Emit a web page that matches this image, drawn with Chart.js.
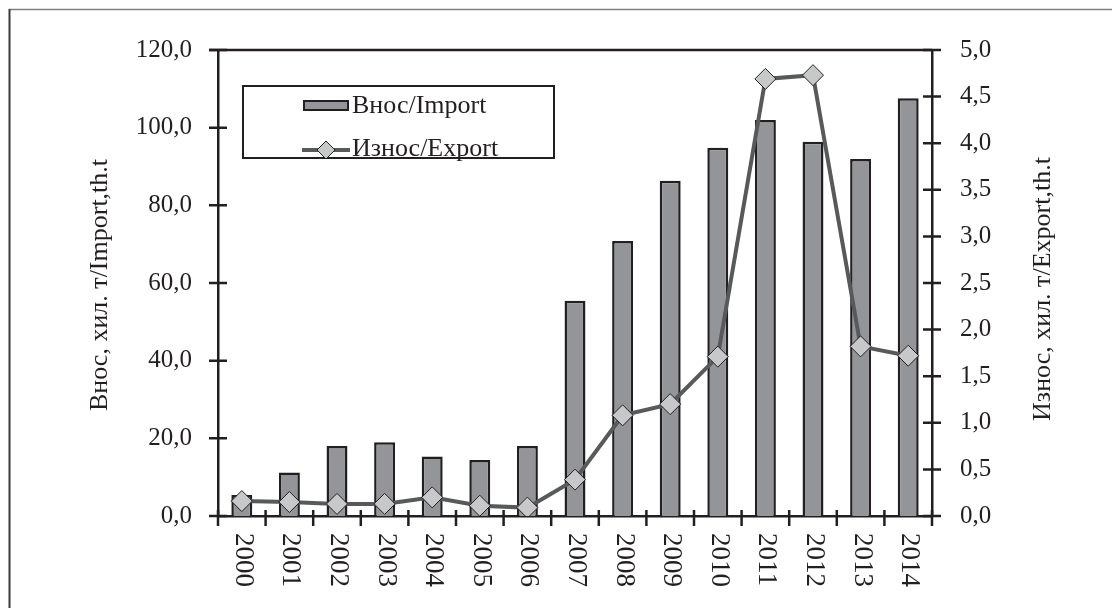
<!DOCTYPE html>
<html>
<head>
<meta charset="utf-8">
<script src="https://cdn.jsdelivr.net/npm/chart.js@4.4.0/dist/chart.umd.min.js"></script>
<style>
  html, body { margin: 0; padding: 0; background: #fff; }
  #wrap { width: 1112px; height: 608px; position: relative; }
</style>
</head>
<body>
<div id="wrap"><canvas id="chart"></canvas></div>
<script>
// Import / export, thousand tonnes
const years = ['2000', '2001', '2002', '2003', '2004', '2005', '2006', '2007',
               '2008', '2009', '2010', '2011', '2012', '2013', '2014'];
const importValues = [5.4, 11.2, 18.0, 19.0, 15.3, 14.4, 18.0, 55.4, 70.8, 86.3, 94.8, 102.0, 96.4, 91.9, 107.6];
const exportValues = [0.16, 0.15, 0.13, 0.13, 0.20, 0.11, 0.09, 0.39, 1.08, 1.20, 1.71, 4.69, 4.73, 1.82, 1.72];
const importTicks = [0, 20, 40, 60, 80, 100, 120];
const exportTicks = [0, 0.5, 1, 1.5, 2, 2.5, 3, 3.5, 4, 4.5, 5];

const importLabel = 'Внос/Import';
const exportLabel = 'Износ/Export';
const leftTitle = 'Внос, хил. т/Import,th.t';
const rightTitle = 'Износ, хил. т/Export,th.t';

const ink = '#231f20';
const serif = "'Liberation Serif', 'Times New Roman', serif";
const fmt = v => v.toFixed(1).replace('.', ',');

// fixed ticks from the arrays above
function setTicks(list) {
    return scale => { scale.ticks = list.map(v => ({ value: v })); };
}

const decor = {
    id: 'decor',
    beforeDraw(chart) {
        const ctx = chart.ctx;
        ctx.save();
        // outer frame (only top and left are visible)
        ctx.strokeStyle = '#808080';
        ctx.lineWidth = 1.5;
        ctx.beginPath(); ctx.moveTo(9, 9.5); ctx.lineTo(chart.width, 9.5); ctx.stroke();
        ctx.strokeStyle = '#3a3a3a';
        ctx.lineWidth = 2;
        ctx.beginPath(); ctx.moveTo(9.5, 9); ctx.lineTo(9.5, chart.height); ctx.stroke();
        ctx.restore();
    },
    afterDraw(chart) {
        const { ctx, chartArea: a, scales } = chart;
        ctx.save();
        ctx.strokeStyle = ink;
        ctx.lineWidth = 2.5;

        // top edge of plot
        ctx.beginPath(); ctx.moveTo(a.left - 9, a.top); ctx.lineTo(a.right, a.top); ctx.stroke();

        // cross ticks
        ctx.beginPath();
        scales.y.ticks.forEach(t => {
            const y = scales.y.getPixelForValue(t.value);
            ctx.moveTo(a.left - 9, y); ctx.lineTo(a.left + 9, y);
        });
        scales.y1.ticks.forEach(t => {
            const y = scales.y1.getPixelForValue(t.value);
            ctx.moveTo(a.right - 9, y); ctx.lineTo(a.right + 9, y);
        });
        for (let i = 0; i <= years.length; i++) {
            const x = scales.x.getPixelForValue(i - 0.5);
            ctx.moveTo(x, a.bottom - 6); ctx.lineTo(x, a.bottom + 10);
        }
        ctx.stroke();

        // x labels, read top to bottom
        ctx.fillStyle = ink;
        ctx.font = '27px ' + serif;
        ctx.textAlign = 'left';
        ctx.textBaseline = 'middle';
        years.forEach((yr, i) => {
            const x = scales.x.getPixelForValue(i);
            ctx.save();
            ctx.translate(x + 1, a.bottom + 17);
            ctx.rotate(Math.PI / 2);
            ctx.fillText(yr, 0, 0);
            ctx.restore();
        });

        // axis titles, both read bottom to top
        ctx.font = '26px ' + serif;
        ctx.textAlign = 'center';
        ctx.save();
        ctx.translate(100, 285);
        ctx.rotate(-Math.PI / 2);
        ctx.fillText(leftTitle, 0, 0);
        ctx.restore();
        ctx.save();
        ctx.translate(1043, 289);
        ctx.rotate(-Math.PI / 2);
        ctx.fillText(rightTitle, 0, 0);
        ctx.restore();

        // legend
        ctx.lineWidth = 2;
        ctx.strokeRect(243, 86, 311, 72);
        ctx.fillStyle = '#939598';
        ctx.fillRect(304, 101, 44, 9);
        ctx.strokeRect(304, 101, 44, 9);
        ctx.strokeStyle = '#58595b';
        ctx.lineWidth = 4;
        ctx.beginPath(); ctx.moveTo(302, 150); ctx.lineTo(350, 150); ctx.stroke();
        ctx.fillStyle = '#c7c8ca';
        ctx.strokeStyle = ink;
        ctx.lineWidth = 1;
        ctx.beginPath();
        ctx.moveTo(326, 141); ctx.lineTo(335, 150); ctx.lineTo(326, 159); ctx.lineTo(317, 150); ctx.closePath();
        ctx.fill(); ctx.stroke();
        ctx.fillStyle = ink;
        ctx.font = '26px ' + serif;
        ctx.textAlign = 'left';
        ctx.fillText(importLabel, 352, 106);
        ctx.fillText(exportLabel, 352, 149);
        ctx.restore();
    }
};

new Chart(document.getElementById('chart'), {
    type: 'bar',
    data: {
        labels: years,
        datasets: [{
            type: 'line',
            label: exportLabel,
            data: exportValues,
            yAxisID: 'y1',
            order: 0,
            borderColor: '#58595b',
            borderWidth: 4,
            pointStyle: 'rectRot',
            pointRadius: 10.5,
            pointBackgroundColor: '#c7c8ca',
            pointBorderColor: ink,
            pointBorderWidth: 1,
            tension: 0
        }, {
            label: importLabel,
            data: importValues,
            yAxisID: 'y',
            order: 1,
            backgroundColor: '#939598',
            borderColor: ink,
            borderWidth: 2.5,
            barPercentage: 0.44,
            categoryPercentage: 1
        }]
    },
    options: {
        responsive: true,
        maintainAspectRatio: false,
        animation: false,
        layout: { padding: { top: 50, left: 0, right: 0, bottom: 0 } },
        scales: {
            x: {
                grid: { display: false, offset: true },
                border: { color: ink, width: 2.5 },
                ticks: { display: false },
                afterFit: s => { s.height = 92; }
            },
            y: {
                position: 'left',
                min: 0, max: 120,
                afterBuildTicks: setTicks(importTicks),
                grid: { display: false },
                border: { color: ink, width: 2.5 },
                ticks: { color: ink, font: { family: serif, size: 25 }, padding: 18, callback: fmt },
                afterFit: s => { s.width = 218; }
            },
            y1: {
                position: 'right',
                min: 0, max: 5,
                afterBuildTicks: setTicks(exportTicks),
                grid: { display: false },
                border: { color: ink, width: 2.5 },
                ticks: { color: ink, font: { family: serif, size: 25 }, padding: 20, callback: fmt },
                afterFit: s => { s.width = 180; }
            }
        },
        plugins: {
            legend: { display: false },
            tooltip: { enabled: false }
        }
    },
    plugins: [decor]
});
</script>
</body>
</html>
